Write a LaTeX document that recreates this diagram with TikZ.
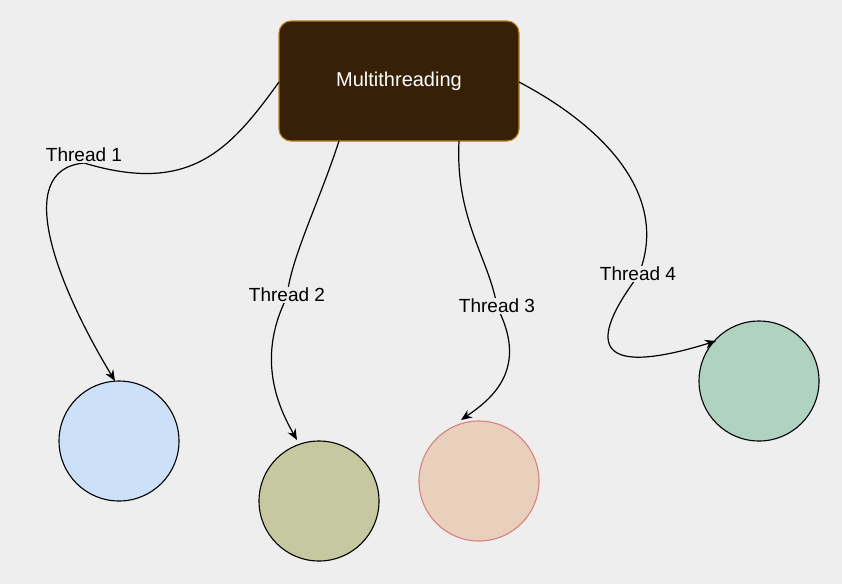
\documentclass[tikz,border=0pt]{standalone}
\usepackage{fontspec}
\setmainfont{Liberation Sans}
\usetikzlibrary{arrows.meta}
\definecolor{bg}{HTML}{EEEEEE}
\begin{document}
\begin{tikzpicture}[x=1pt,y=-1pt,
  circ/.style={circle,minimum size=120pt,inner sep=0pt,line width=1.1pt,draw=black},
  lab/.style={fill=bg,inner sep=1pt,font=\fontsize{19}{22}\selectfont},
  conn/.style={line width=1.2pt,-{Stealth[length=11pt,width=9pt]}}]
\fill[bg] (0,0) rectangle (842,584);
\useasboundingbox (0,0) rectangle (842,584);
\node[draw={rgb,255:red,184;green,128;blue,30},fill={rgb,255:red,54;green,32;blue,6},line width=1.1pt,rounded corners=12pt,minimum width=240pt,minimum height=120pt,text=white,font=\fontsize{20}{24}\selectfont] (m) at (399,81) {Multithreading};
\node[circ,fill={rgb,255:red,204;green,224;blue,247}] (c1) at (119,441) {};
\node[circ,fill={rgb,255:red,198;green,200;blue,160}] (c2) at (319,501) {};
\node[circ,fill={rgb,255:red,232;green,208;blue,188},draw={rgb,255:red,217;green,128;blue,128}] (c3) at (479,481) {};
\node[circ,fill={rgb,255:red,175;green,211;blue,192}] (c4) at (759,381) {};
\coordinate (s1) at (279,82); \coordinate (e1) at (115,381);
\coordinate (s2) at (339,141); \coordinate (e2) at (297,440);
\coordinate (s3) at (459,141); \coordinate (e3) at (461,420);
\coordinate (s4) at (519,82); \coordinate (e4) at (716,341);
\coordinate (l1) at (84,163); \coordinate (l2) at (287,297);
\coordinate (l3) at (497,307); \coordinate (l4) at (638,276);
\draw[conn] (s1) .. controls (230,150) and (190,195) .. (l1) .. controls (10,170) and (60,290) .. (e1);
\draw[conn] (s2) .. controls (320,200) and (290,260) .. (l2) .. controls (255,360) and (280,410) .. (e2);
\draw[conn] (s3) .. controls (455,220) and (490,260) .. (l3) .. controls (530,370) and (490,400) .. (e3);
\draw[conn] (s4) .. controls (610,130) and (670,200) .. (l4) .. controls (590,340) and (590,380) .. (e4);
\node[lab] (t1) at (84,155) {Thread 1};
\node[lab] (t2) at (287,295) {Thread 2};
\node[lab] (t3) at (497,306) {Thread 3};
\node[lab] (t4) at (638,274) {Thread 4};
\end{tikzpicture}
\end{document}
